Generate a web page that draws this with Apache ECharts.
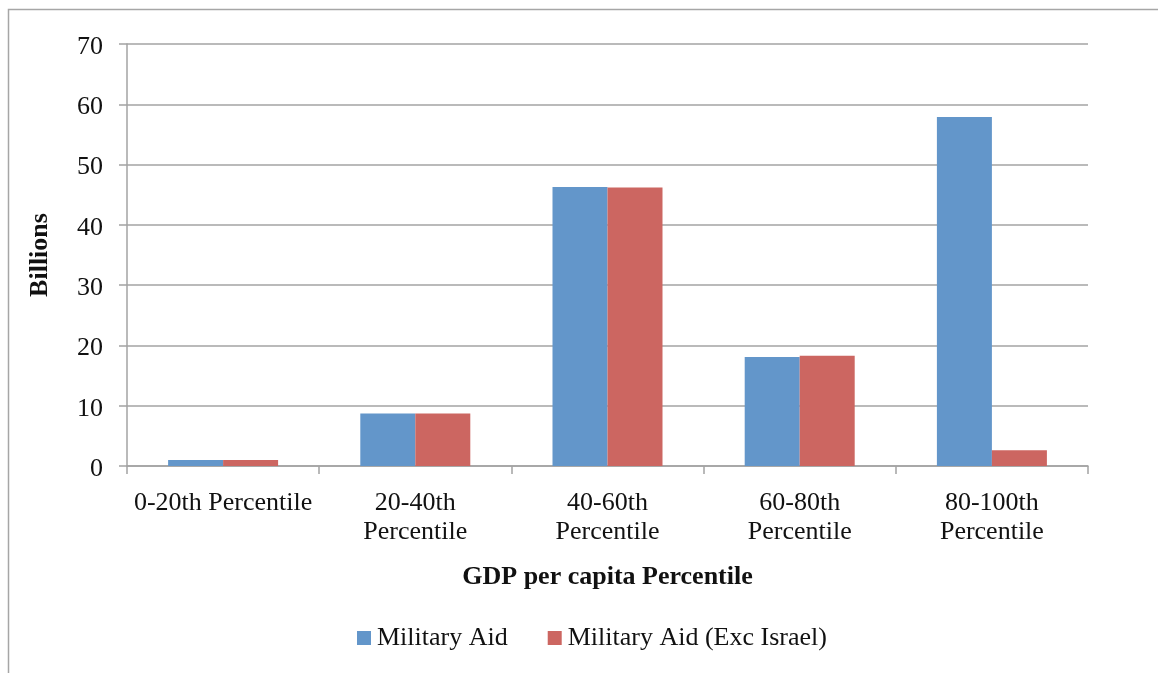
<!DOCTYPE html>
<html>
<head>
<meta charset="utf-8">
<script src="https://cdn.jsdelivr.net/npm/echarts@6/dist/echarts.min.js"></script>
<style>
  html, body { margin: 0; padding: 0; background: #ffffff; }
  #chart { width: 1158px; height: 673px; }
</style>
</head>
<body>
<div id="chart"></div>
<script>
// GDP per capita percentile groups
const categories = [
  '0-20th Percentile',
  '20-40th\nPercentile',
  '40-60th\nPercentile',
  '60-80th\nPercentile',
  '80-100th\nPercentile'
];
// Military aid, in billions
const militaryAid = [1.0, 8.7, 46.3, 18.1, 57.9];
const militaryAidExcIsrael = [1.0, 8.7, 46.2, 18.3, 2.6];
const seriesNames = ['Military Aid', 'Military Aid (Exc Israel)'];
const yTicks = { min: 0, max: 70, interval: 10 };

const FONT = '"Liberation Serif", "Times New Roman", serif';
const GRID_GREY = '#a3a3a3';
const TEXT = '#111111';

const chart = echarts.init(document.getElementById('chart'), null, { renderer: 'canvas' });

chart.setOption({
  animation: false,
  backgroundColor: '#ffffff',
  textStyle: { fontFamily: FONT },
  graphic: [{
    type: 'rect',
    silent: true,
    shape: { x: 8.5, y: 9.5, width: 2000, height: 2000 },
    style: { fill: 'none', stroke: '#a6a6a6', lineWidth: 1.5 }
  }],
  grid: { left: 127, right: 70, top: 44, bottom: 207, containLabel: false },
  legend: {
    data: seriesNames,
    left: 352,
    top: 620,
    itemWidth: 14,
    itemHeight: 14,
    itemGap: 40,
    icon: 'rect',
    textStyle: { fontFamily: FONT, fontSize: 26, color: TEXT, padding: [0, 0, 0, 1] }
  },
  xAxis: {
    type: 'category',
    data: categories,
    name: 'GDP per capita Percentile',
    nameLocation: 'middle',
    nameGap: 98,
    nameTextStyle: { fontFamily: FONT, fontSize: 26, fontWeight: 'bold', color: TEXT },
    axisLine: { lineStyle: { color: GRID_GREY, width: 1.5 } },
    axisTick: { show: true, length: 8, alignWithLabel: false, lineStyle: { color: GRID_GREY, width: 1.5 } },
    axisLabel: {
      interval: 0,
      margin: 23,
      fontFamily: FONT,
      fontSize: 26,
      lineHeight: 29,
      color: TEXT
    }
  },
  yAxis: {
    type: 'value',
    min: yTicks.min,
    max: yTicks.max,
    interval: yTicks.interval,
    name: 'Billions',
    nameLocation: 'middle',
    nameRotate: 90,
    nameGap: 74,
    nameTextStyle: { fontFamily: FONT, fontSize: 26, fontWeight: 'bold', color: TEXT },
    axisLine: { show: true, lineStyle: { color: GRID_GREY, width: 1.5 } },
    axisTick: { show: true, length: 8, lineStyle: { color: GRID_GREY, width: 1.5 } },
    splitLine: { show: true, lineStyle: { color: GRID_GREY, width: 1.5 } },
    axisLabel: {
      margin: 24,
      formatter: '{v|{value}}',
      rich: { v: { fontFamily: FONT, fontSize: 26, color: TEXT, padding: [6, 0, 0, 0] } }
    }
  },
  series: [
    {
      name: seriesNames[0],
      type: 'bar',
      data: militaryAid,
      barWidth: 55,
      barGap: '0%',
      itemStyle: { color: '#6396ca' }
    },
    {
      name: seriesNames[1],
      type: 'bar',
      data: militaryAidExcIsrael,
      barWidth: 55,
      barGap: '0%',
      itemStyle: { color: '#cc6661' }
    }
  ]
});
</script>
</body>
</html>
